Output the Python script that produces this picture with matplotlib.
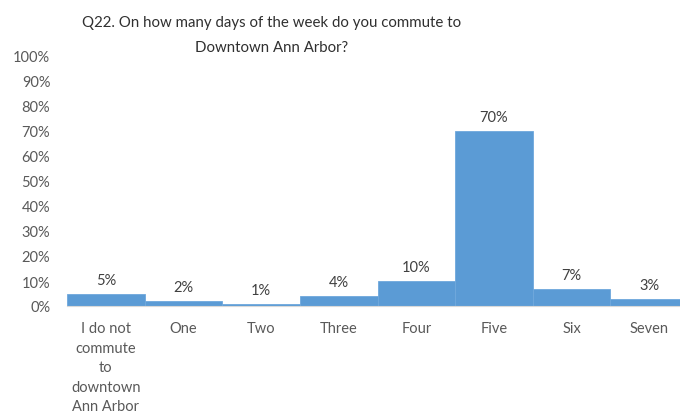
import matplotlib
matplotlib.use("Agg")
import matplotlib.pyplot as plt
from matplotlib.ticker import PercentFormatter

categories = ["I do not\ncommute\nto\ndowntown\nAnn Arbor", "One", "Two", "Three",
              "Four", "Five", "Six", "Seven"]
shares = [5, 2, 1, 4, 10, 70, 7, 3]
yticks = list(range(0, 101, 10))

plt.rcParams['font.family'] = ['Lato', 'DejaVu Sans']

fig = plt.figure(figsize=(6.8, 4.14), dpi=100)
ax = fig.add_axes([67 / 680, 107 / 414, 621 / 680, 250 / 414])

x = list(range(len(categories)))
ax.bar(x, shares, width=1.0, color="#5B9BD5", edgecolor="#6FA8DC", linewidth=0.6)

for xi, v in zip(x, shares):
    ax.annotate(f"{v}%", (xi, v), xytext=(0, 5), textcoords="offset points",
                ha="center", va="bottom", fontsize=10.5, color="#404040")

ax.set_xlim(-0.5, len(categories) - 0.5)
ax.set_ylim(0, 100)
ax.set_yticks(yticks)
ax.yaxis.set_major_formatter(PercentFormatter(decimals=0))
ax.set_xticks(x)
ax.set_xticklabels(categories, linespacing=1.5)

for s in ["top", "right", "left"]:
    ax.spines[s].set_visible(False)
ax.spines["bottom"].set_color("#D9D9D9")
ax.spines["bottom"].set_linewidth(0.8)
ax.tick_params(axis="both", length=0, labelsize=10.5, colors="#595959")
ax.tick_params(axis="x", pad=11)
ax.tick_params(axis="y", pad=12)

fig.text(272 / 680, 1 - 36 / 414,
         "Q22. On how many days of the week do you commute to\nDowntown Ann Arbor?",
         ha="center", va="center", fontsize=10.8, color="#303030", linespacing=2.0)

fig.savefig("out.png", dpi=100)
